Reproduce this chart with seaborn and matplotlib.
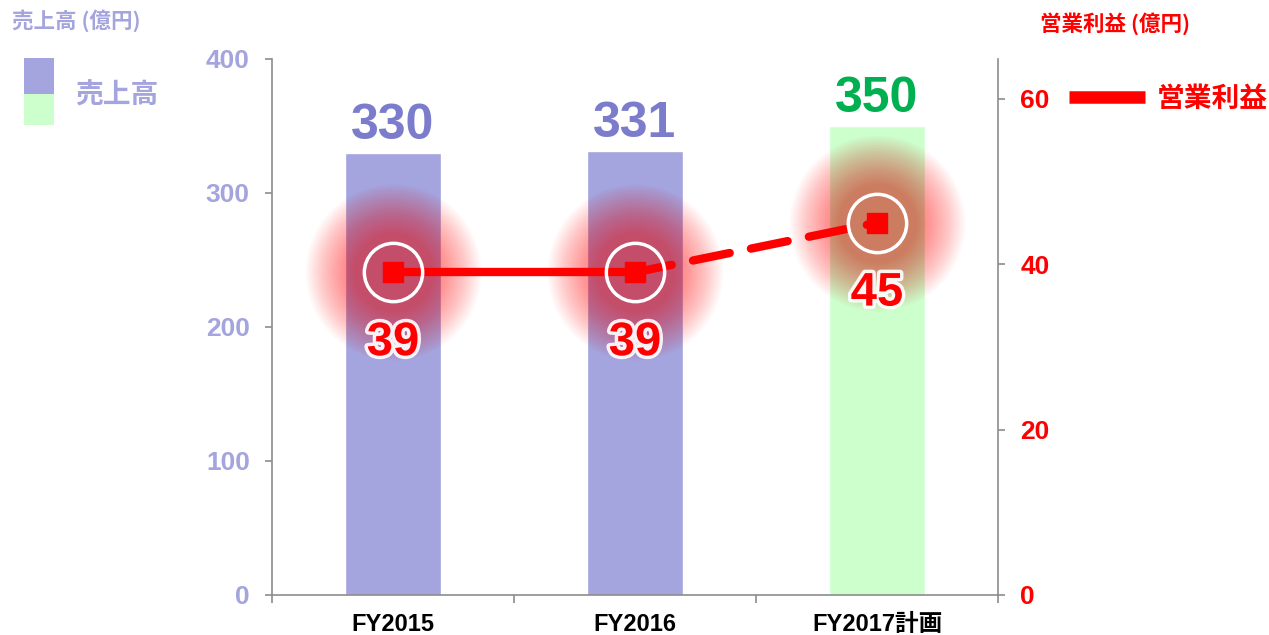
import matplotlib
matplotlib.use("Agg")
import matplotlib.pyplot as plt
import matplotlib.patheffects as pe
from matplotlib.patches import Rectangle
from matplotlib.lines import Line2D
import numpy as np
import pandas as pd
import seaborn as sns

categories = ["FY2015", "FY2016", "FY2017計画"]
sales = [330, 331, 350]
profit = [39, 39, 45]
sales_ticks = [0, 100, 200, 300, 400]
profit_ticks = [0, 20, 40, 60]

PURPLE = "#A4A4DE"
GREEN = "#CCFFCC"
LABEL_PURPLE = "#7C7CCC"
LABEL_GREEN = "#00B050"
RED = "#FF0000"
GRAY = "#8C8C8C"

sns.set_theme(style="white")
plt.rcParams["font.family"] = ["Liberation Sans", "Noto Sans CJK JP", "DejaVu Sans"]
plt.rcParams["font.weight"] = "bold"
CJK = ["Noto Sans CJK JP", "DejaVu Sans"]

fig = plt.figure(figsize=(12.69, 6.35), dpi=100)
ax = fig.add_axes([272 / 1269, 1 - 595 / 635, (998 - 272) / 1269, (595 - 59) / 635])

df = pd.DataFrame({"cat": categories, "sales": sales})
sns.barplot(data=df, x="cat", y="sales", hue="cat", palette=[PURPLE, PURPLE, GREEN],
            width=0.4, legend=False, ax=ax, saturation=1)
ax.set_xlim(-0.5, 2.5)
ax.set_ylim(0, 400)
ax.set_xlabel("")
ax.set_ylabel("")
ax.set_yticks(sales_ticks)
ax.tick_params(axis="y", colors=GRAY, labelcolor=PURPLE, labelsize=19, length=5, width=1.2, pad=11, left=True)
ax.set_xticks(range(len(categories)))
ax.set_xticklabels(categories, fontsize=17, color="black", fontweight="bold")
ax.set_xticks([-0.5, 0.5, 1.5, 2.5], minor=True)
ax.tick_params(axis="x", which="major", length=0, pad=13)
ax.tick_params(axis="x", which="minor", length=6, width=1.2, color=GRAY, bottom=True)
for s in ["top", "right"]:
    ax.spines[s].set_visible(False)
for s in ["left", "bottom"]:
    ax.spines[s].set_color(GRAY)
    ax.spines[s].set_linewidth(1.2)
for lbl in ax.get_yticklabels():
    lbl.set_fontweight("bold")

label_colors = [LABEL_PURPLE, LABEL_PURPLE, LABEL_GREEN]
for i, v in enumerate(sales):
    ax.annotate(f"{v}", (i, v), xytext=(0, 3), textcoords="offset points",
                ha="center", va="bottom", fontsize=36, fontweight="bold", color=label_colors[i])

ax2 = ax.twinx()
ax2.set_ylim(0, 64.8)
ax2.set_yticks(profit_ticks)
ax2.tick_params(axis="y", colors=GRAY, labelcolor=RED, labelsize=19, length=5, width=1.2, pad=11, right=True)
for lbl in ax2.get_yticklabels():
    lbl.set_fontweight("bold")
for s in ["top", "left", "bottom"]:
    ax2.spines[s].set_visible(False)
ax2.spines["right"].set_color(GRAY)
ax2.spines["right"].set_linewidth(1.2)
ax2.grid(False)
ax.grid(False)

x = np.arange(len(categories))
# soft glow behind the markers
n = 32
for k in range(n):
    r = 88 - k * (50 / n)  # px radius
    s = (2 * r * 0.72) ** 2
    ax2.scatter(x, profit, s=s, color=RED, alpha=0.018, linewidths=0, zorder=1)

ax2.plot(x[:2], profit[:2], color=RED, lw=6, solid_capstyle="butt", zorder=3)
ax2.plot(x[1:], profit[1:], color=RED, lw=6, ls=(0, (4.5, 2.6)), dash_capstyle="round", zorder=3)
ax2.plot(x, profit, ls="none", marker="s", ms=14, color=RED, zorder=4)
ax2.plot(x, profit, ls="none", marker="o", ms=42, mfc="none", mec="white", mew=2.5, zorder=5)

for i, v in enumerate(profit):
    ax2.annotate(f"{v}", (i, v), xytext=(0, -51), textcoords="offset points",
                 ha="center", va="center", fontsize=34, fontweight="bold", color=RED, zorder=6,
                 path_effects=[pe.withStroke(linewidth=5, foreground="white", alpha=0.9)])

# axis titles
fig.text(12 / 1269, 1 - 21 / 635, "売上高 (億円)", fontsize=15.5, color=PURPLE, fontweight="bold",
         family=CJK, ha="left", va="center")
fig.text(1190 / 1269, 1 - 24 / 635, "営業利益 (億円)", fontsize=15.5, color=RED, fontweight="bold",
         family=CJK, ha="right", va="center")

# legends
fig.add_artist(Rectangle((24 / 1269, 1 - 94 / 635), 30 / 1269, 36 / 635, transform=fig.transFigure,
                         color=PURPLE, lw=0))
fig.add_artist(Rectangle((24 / 1269, 1 - 125 / 635), 30 / 1269, 31 / 635, transform=fig.transFigure,
                         color=GREEN, lw=0))
fig.text(75 / 1269, 1 - 96 / 635, "売上高", fontsize=20, color=PURPLE, fontweight="bold",
         ha="left", va="center")
fig.add_artist(Line2D([1069 / 1269, 1145 / 1269], [1 - 97 / 635, 1 - 97 / 635], transform=fig.transFigure,
                      color=RED, lw=9, solid_capstyle="butt"))
fig.text(1157 / 1269, 1 - 100 / 635, "営業利益", fontsize=20, color=RED, fontweight="bold",
         ha="left", va="center")

fig.savefig("out.png", dpi=100)
